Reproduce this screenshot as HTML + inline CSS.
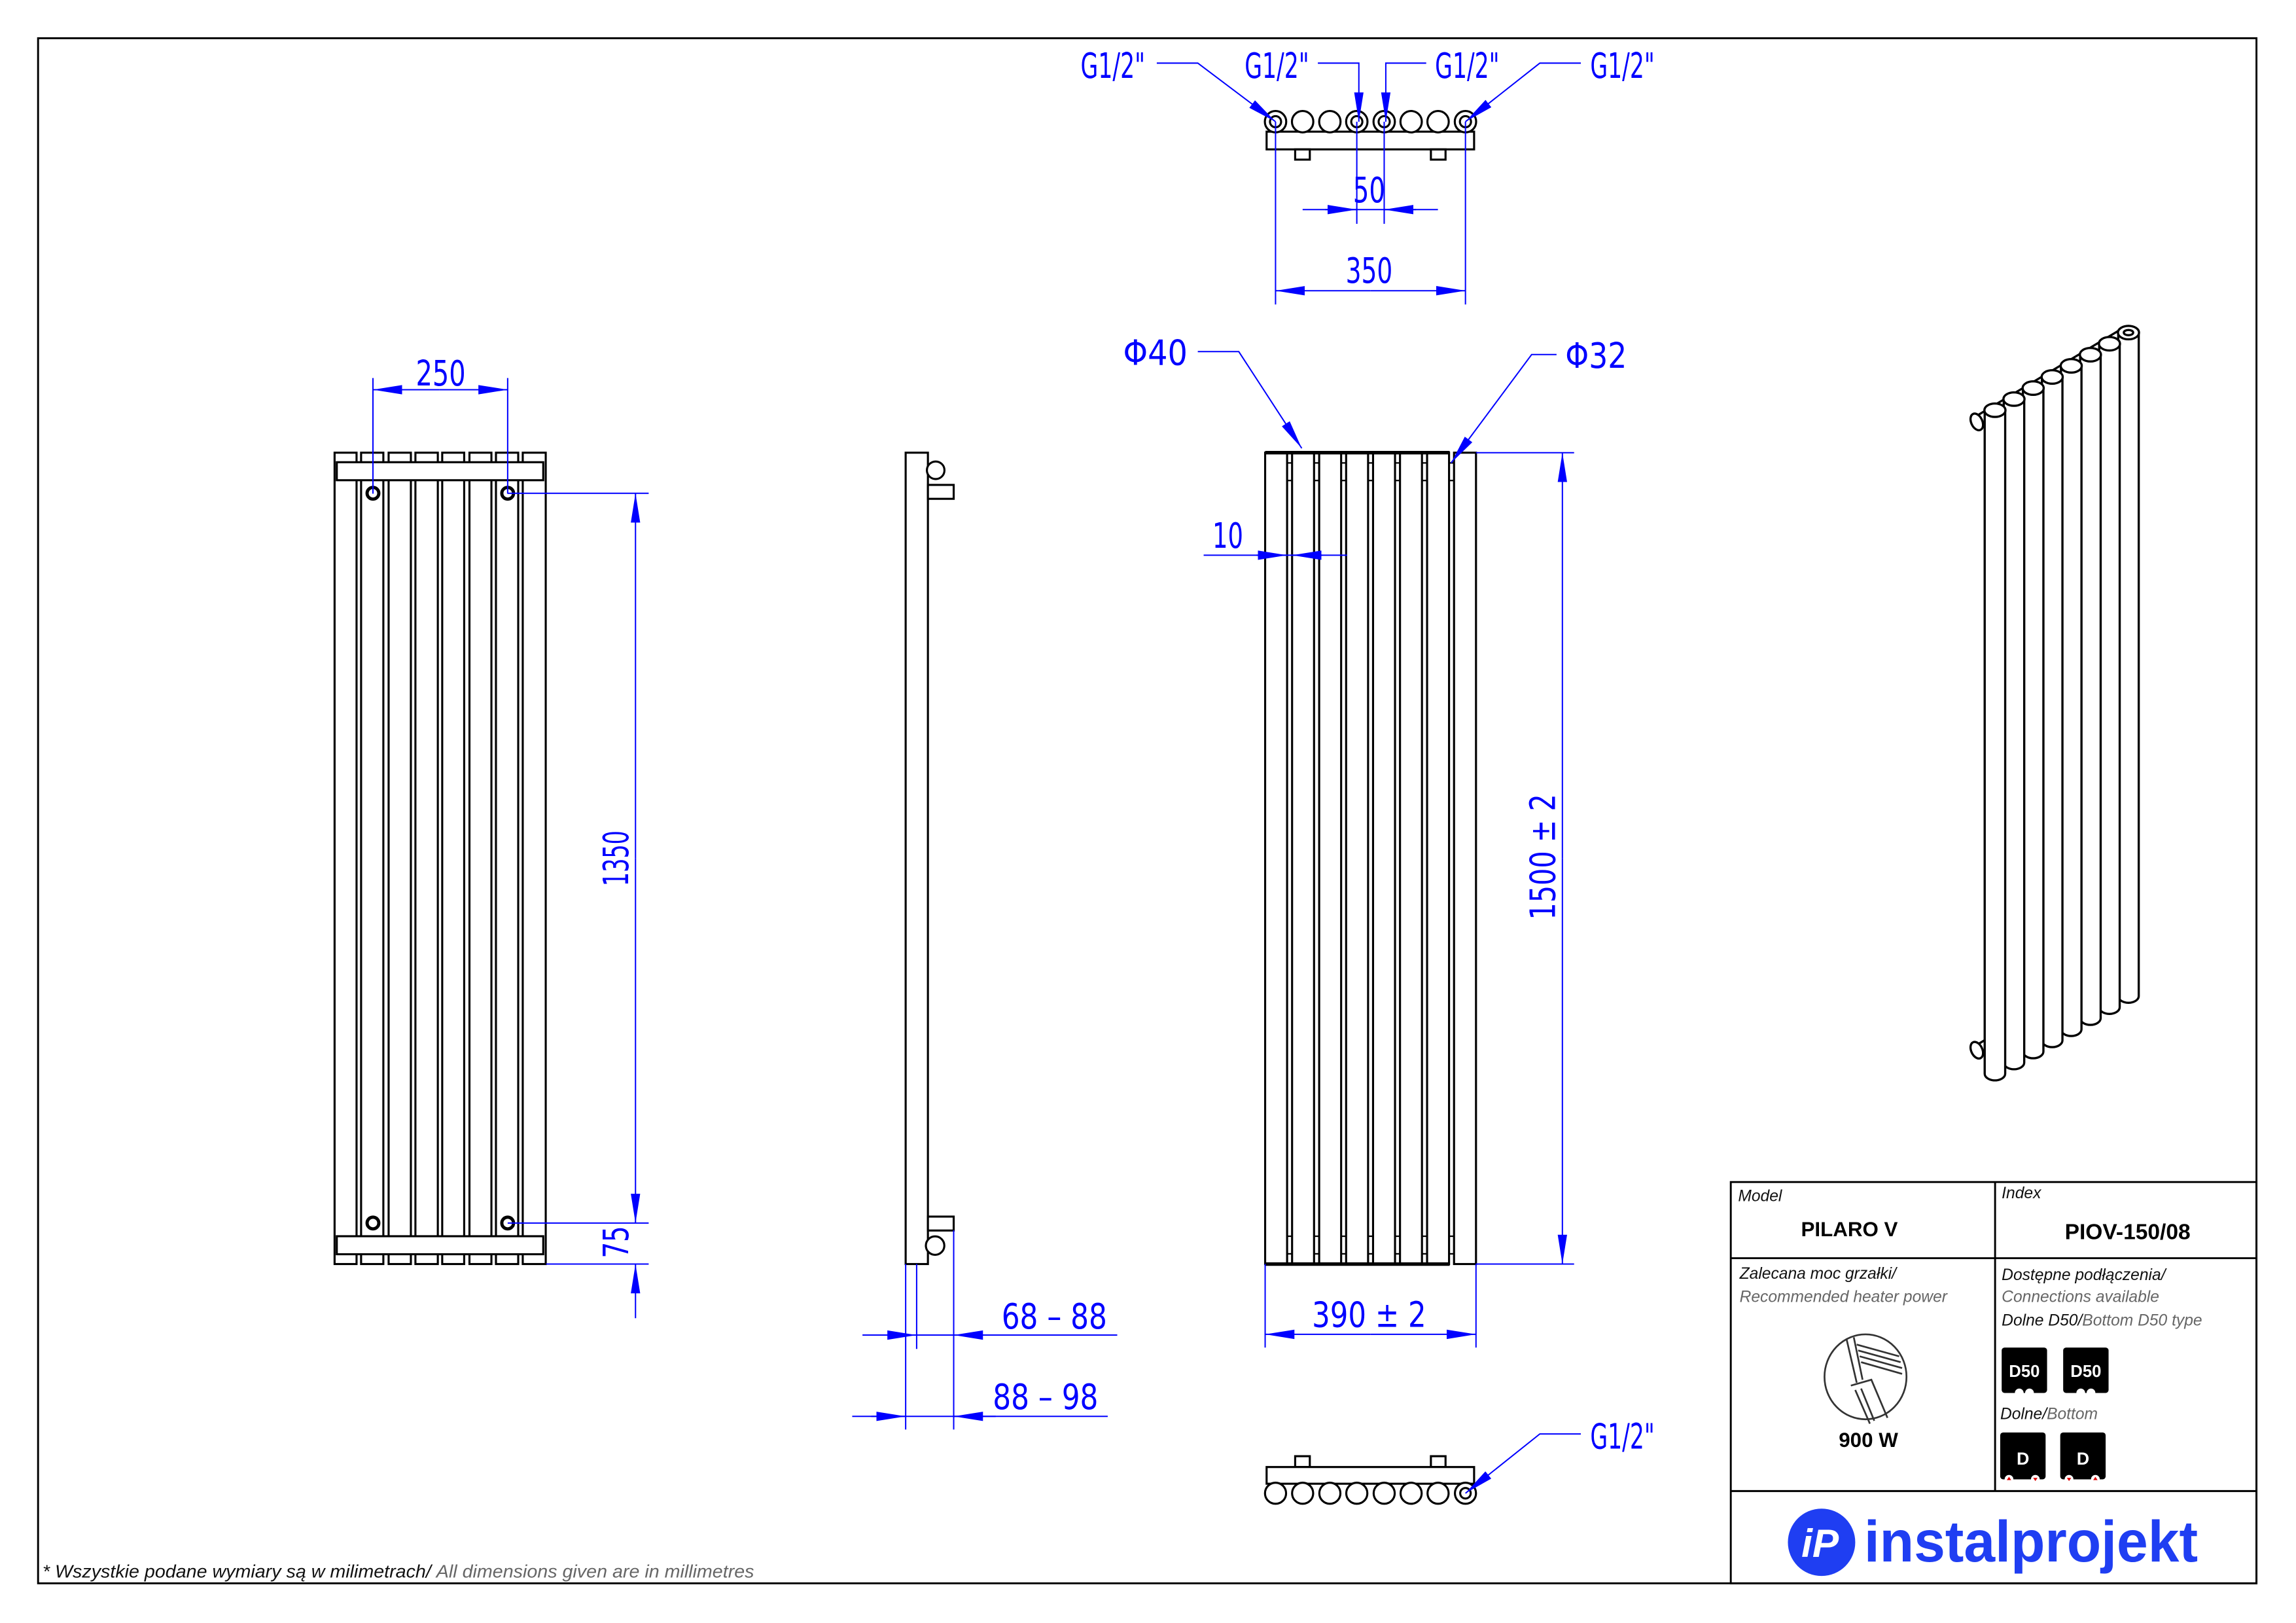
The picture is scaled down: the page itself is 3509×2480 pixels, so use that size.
<!DOCTYPE html>
<html><head><meta charset="utf-8"><style>
html,body{margin:0;padding:0;background:#fff}
svg{display:block}
.k{fill:none;stroke:#000;stroke-width:1.4}
.kw{fill:#fff;stroke:#000;stroke-width:1.4}
.b{fill:none;stroke:#0000ff;stroke-width:0.9}
.ba{fill:none;stroke:#0000ff;stroke-width:0.9;marker-end:url(#ar)}
.dt{fill:#0000ff;font-family:"Liberation Sans Narrow","DejaVu Sans Condensed","Liberation Sans",sans-serif;font-size:24px}
.it{font-family:"Liberation Sans","DejaVu Sans",sans-serif;font-style:italic;font-size:11px;fill:#111}
.gr{fill:#666}
.bd{font-family:"Liberation Sans","DejaVu Sans",sans-serif;font-weight:bold;fill:#000}
</style></head><body>
<svg width="3509" height="2480" viewBox="0 0 1568 1108" xmlns="http://www.w3.org/2000/svg">
<defs>
<marker id="ar" markerUnits="userSpaceOnUse" markerWidth="20" markerHeight="8" viewBox="0 -4 20 8" refX="20" refY="0" orient="auto">
<path d="M0,-3.2 L20,0 L0,3.2Z" fill="#0000ff"/>
</marker>
</defs>
<rect x="0" y="0" width="1568" height="1108" fill="#fff"/>
<!-- frame -->
<rect x="26" y="26" width="1515" height="1055" fill="none" stroke="#000" stroke-width="1.3"/>

<!-- ===== LEFT FRONT VIEW ===== -->
<g class="k">
<rect class="kw" x="228.5" y="309" width="15" height="554"/>
<rect class="kw" x="246.6" y="309" width="15.2" height="554"/>
<rect class="kw" x="265.4" y="309" width="15.2" height="554"/>
<rect class="kw" x="283.7" y="309" width="15.3" height="554"/>
<rect class="kw" x="302" y="309" width="15" height="554"/>
<rect class="kw" x="320.6" y="309" width="15" height="554"/>
<rect class="kw" x="338.7" y="309" width="15.2" height="554"/>
<rect class="kw" x="357" y="309" width="15.7" height="554"/>
<rect class="kw" x="230" y="315.5" width="141" height="12.3" stroke-width="1.8"/>
<rect class="kw" x="230" y="844" width="141" height="12.3" stroke-width="1.8"/>
</g>
<g fill="none" stroke="#000" stroke-width="2.2">
<circle cx="254.7" cy="336.7" r="4"/><circle cx="346.7" cy="336.7" r="4"/>
<circle cx="254.7" cy="835" r="4"/><circle cx="346.7" cy="835" r="4"/>
</g>
<!-- 250 -->
<line class="b" x1="254.7" y1="258" x2="254.7" y2="337"/>
<line class="b" x1="346.7" y1="258" x2="346.7" y2="337"/>
<line class="ba" x1="300" y1="266" x2="254.7" y2="266"/>
<line class="ba" x1="300" y1="266" x2="346.7" y2="266"/>
<text class="dt" x="284" y="263" textLength="34" lengthAdjust="spacingAndGlyphs">250</text>
<!-- 1350 / 75 -->
<line class="b" x1="346.7" y1="336.7" x2="443" y2="336.7"/>
<line class="b" x1="346.7" y1="835" x2="443" y2="835"/>
<line class="b" x1="373" y1="863" x2="443" y2="863"/>
<line class="ba" x1="434" y1="586" x2="434" y2="336.7"/>
<line class="ba" x1="434" y1="586" x2="434" y2="835"/>
<line class="ba" x1="434" y1="900" x2="434" y2="863"/>
<text class="dt" transform="translate(429,605) rotate(-90)" textLength="38" lengthAdjust="spacingAndGlyphs">1350</text>
<text class="dt" transform="translate(429,859) rotate(-90)" textLength="22" lengthAdjust="spacingAndGlyphs">75</text>

<!-- ===== SIDE VIEW ===== -->
<rect class="kw" x="618.5" y="309" width="15.2" height="554" stroke-width="1.6"/>
<rect class="kw" x="633.7" y="331" width="17.6" height="9.5"/>
<rect class="kw" x="633.7" y="830.6" width="17.6" height="9.5"/>
<circle class="kw" cx="639" cy="321" r="6"/>
<circle class="kw" cx="638.6" cy="850.4" r="6.3"/>
<line class="b" x1="618.5" y1="863" x2="618.5" y2="976"/>
<line class="b" x1="626" y1="863" x2="626" y2="921"/>
<line class="b" x1="651.3" y1="840" x2="651.3" y2="976"/>
<line class="b" x1="589" y1="911.5" x2="763" y2="911.5"/>
<line class="ba" x1="600" y1="911.5" x2="626" y2="911.5"/>
<line class="ba" x1="680" y1="911.5" x2="651.3" y2="911.5"/>
<text class="dt" x="684" y="907" textLength="72" lengthAdjust="spacingAndGlyphs">68 – 88</text>
<line class="b" x1="582" y1="967" x2="756.5" y2="967"/>
<line class="ba" x1="595" y1="967" x2="618.5" y2="967"/>
<line class="ba" x1="680" y1="967" x2="651.3" y2="967"/>
<text class="dt" x="678" y="962" textLength="72" lengthAdjust="spacingAndGlyphs">88 – 98</text>

<!-- ===== MIDDLE FRONT VIEW ===== -->
<g class="kw">
<rect x="864" y="309" width="15" height="554"/>
<rect x="882.4" y="309" width="15" height="554"/>
<rect x="900.9" y="309" width="15" height="554"/>
<rect x="919.3" y="309" width="15" height="554"/>
<rect x="937.7" y="309" width="15" height="554"/>
<rect x="956.1" y="309" width="15" height="554"/>
<rect x="974.6" y="309" width="15" height="554"/>
<rect x="993" y="309" width="15" height="554"/>
</g>
<g stroke="#000" stroke-width="2.4">
<line x1="864" y1="309" x2="990" y2="309"/>
<line x1="864" y1="863" x2="990" y2="863"/>
</g>
<g stroke="#000" stroke-width="1">
<path d="M879,316H882.4M897.4,316H900.9M915.9,316H919.3M934.3,316H937.7M952.7,316H956.1M971.1,316H974.6M989.6,316H993"/>
<path d="M879,328H882.4M897.4,328H900.9M915.9,328H919.3M934.3,328H937.7M952.7,328H956.1M971.1,328H974.6M989.6,328H993"/>
<path d="M879,844H882.4M897.4,844H900.9M915.9,844H919.3M934.3,844H937.7M952.7,844H956.1M971.1,844H974.6M989.6,844H993"/>
<path d="M879,856H882.4M897.4,856H900.9M915.9,856H919.3M934.3,856H937.7M952.7,856H956.1M971.1,856H974.6M989.6,856H993"/>
</g>
<!-- Φ40 / Φ32 -->
<text class="dt" x="767" y="249" textLength="44" lengthAdjust="spacingAndGlyphs">Φ40</text>
<polyline class="ba" points="818,240 846,240 889,306"/>
<text class="dt" x="1069" y="251" textLength="42" lengthAdjust="spacingAndGlyphs">Φ32</text>
<polyline class="ba" points="1063,242 1046,242 991,316"/>
<!-- 10 -->
<line class="b" x1="822" y1="379" x2="920" y2="379"/>
<line class="ba" x1="858" y1="379" x2="879" y2="379"/>
<line class="ba" x1="903" y1="379" x2="882.4" y2="379"/>
<text class="dt" x="828" y="374" textLength="21" lengthAdjust="spacingAndGlyphs">10</text>
<!-- 1500 ± 2 -->
<line class="b" x1="1008" y1="309" x2="1075" y2="309"/>
<line class="b" x1="1008" y1="863" x2="1075" y2="863"/>
<line class="ba" x1="1067" y1="586" x2="1067" y2="309"/>
<line class="ba" x1="1067" y1="586" x2="1067" y2="863"/>
<text class="dt" transform="translate(1062,628) rotate(-90)" textLength="86" lengthAdjust="spacingAndGlyphs">1500 ± 2</text>
<!-- 390 ± 2 -->
<line class="b" x1="864" y1="863" x2="864" y2="920"/>
<line class="b" x1="1008" y1="863" x2="1008" y2="920"/>
<line class="ba" x1="936" y1="911" x2="864" y2="911"/>
<line class="ba" x1="936" y1="911" x2="1008" y2="911"/>
<text class="dt" x="896" y="906" textLength="78" lengthAdjust="spacingAndGlyphs">390 ± 2</text>

<!-- ===== TOP VIEW ===== -->
<rect class="kw" x="865" y="89.8" width="141.7" height="12.1"/>
<rect class="k" x="884.5" y="101.9" width="10" height="7"/>
<rect class="k" x="977.2" y="101.9" width="10" height="7"/>
<g class="kw">
<circle cx="871.1" cy="83" r="7.3"/><circle cx="889.6" cy="83" r="7.3"/><circle cx="908.2" cy="83" r="7.3"/><circle cx="926.6" cy="83" r="7.3"/>
<circle cx="945.3" cy="83" r="7.3"/><circle cx="963.7" cy="83" r="7.3"/><circle cx="982.1" cy="83" r="7.3"/><circle cx="1000.8" cy="83" r="7.3"/>
<circle cx="871.1" cy="83" r="3.8"/><circle cx="926.6" cy="83" r="3.8"/><circle cx="945.3" cy="83" r="3.8"/><circle cx="1000.8" cy="83" r="3.8"/>
</g>
<text class="dt" x="738" y="53" textLength="44" lengthAdjust="spacingAndGlyphs">G1/2"</text>
<text class="dt" x="850" y="53" textLength="44" lengthAdjust="spacingAndGlyphs">G1/2"</text>
<text class="dt" x="980" y="53" textLength="44" lengthAdjust="spacingAndGlyphs">G1/2"</text>
<text class="dt" x="1086" y="53" textLength="44" lengthAdjust="spacingAndGlyphs">G1/2"</text>
<polyline class="ba" points="790,43 818,43 871.1,83"/>
<polyline class="ba" points="900,43 928,43 928,83"/>
<polyline class="ba" points="974,43 946.4,43 946.4,83"/>
<polyline class="ba" points="1079.6,43 1051.6,43 1000.8,83"/>
<!-- 50 -->
<line class="b" x1="926.6" y1="83" x2="926.6" y2="152.7"/>
<line class="b" x1="945.3" y1="83" x2="945.3" y2="152.7"/>
<line class="b" x1="889.6" y1="143" x2="982" y2="143"/>
<line class="ba" x1="905" y1="143" x2="926.6" y2="143"/>
<line class="ba" x1="967" y1="143" x2="945.3" y2="143"/>
<text class="dt" x="924" y="138" textLength="22" lengthAdjust="spacingAndGlyphs">50</text>
<!-- 350 -->
<line class="b" x1="871.1" y1="83" x2="871.1" y2="207.8"/>
<line class="b" x1="1000.8" y1="83" x2="1000.8" y2="207.8"/>
<line class="ba" x1="936" y1="198.4" x2="871.1" y2="198.4"/>
<line class="ba" x1="936" y1="198.4" x2="1000.8" y2="198.4"/>
<text class="dt" x="919" y="193" textLength="32" lengthAdjust="spacingAndGlyphs">350</text>

<!-- ===== BOTTOM VIEW ===== -->
<rect class="k" x="884.5" y="994.2" width="10" height="7.4"/>
<rect class="k" x="977.2" y="994.2" width="10" height="7.4"/>
<rect class="kw" x="865" y="1001.6" width="141.7" height="11.4"/>
<g class="kw">
<circle cx="871.1" cy="1019.5" r="7.2"/><circle cx="889.6" cy="1019.5" r="7.2"/><circle cx="908.2" cy="1019.5" r="7.2"/><circle cx="926.6" cy="1019.5" r="7.2"/>
<circle cx="945.3" cy="1019.5" r="7.2"/><circle cx="963.7" cy="1019.5" r="7.2"/><circle cx="982.1" cy="1019.5" r="7.2"/><circle cx="1000.8" cy="1019.5" r="7.2"/>
<circle cx="1000.8" cy="1019.5" r="3.6"/>
</g>
<text class="dt" x="1086" y="989" textLength="44" lengthAdjust="spacingAndGlyphs">G1/2"</text>
<polyline class="ba" points="1079.6,979 1051.6,979 1000.8,1019.5"/>

<!-- ===== ISOMETRIC ===== -->
<g stroke="#000" stroke-width="1.5" fill="#fff">
<!-- header pipes -->
<line x1="1349" y1="284.4" x2="1450.7" y2="223.4"/>
<line x1="1349" y1="714" x2="1450" y2="653"/>
<!-- tubes back to front -->
<g>
<path d="M1446.6,227 V680 A7,4.6 0 0 0 1460.6,680 V227Z"/><ellipse cx="1453.6" cy="227" rx="7.2" ry="4.6"/><ellipse cx="1453.6" cy="227" rx="3.2" ry="1.8"/>
<path d="M1433.6,234.6 V687.6 A7,4.6 0 0 0 1447.6,687.6 V234.6Z"/><ellipse cx="1440.6" cy="234.6" rx="7.2" ry="4.6"/>
<path d="M1420.6,242.1 V695.1 A7,4.6 0 0 0 1434.6,695.1 V242.1Z"/><ellipse cx="1427.6" cy="242.1" rx="7.2" ry="4.6"/>
<path d="M1407.5,249.7 V702.7 A7,4.6 0 0 0 1421.5,702.7 V249.7Z"/><ellipse cx="1414.5" cy="249.7" rx="7.2" ry="4.6"/>
<path d="M1394.5,257.3 V710.3 A7,4.6 0 0 0 1408.5,710.3 V257.3Z"/><ellipse cx="1401.5" cy="257.3" rx="7.2" ry="4.6"/>
<path d="M1381.5,264.9 V717.9 A7,4.6 0 0 0 1395.5,717.9 V264.9Z"/><ellipse cx="1388.5" cy="264.9" rx="7.2" ry="4.6"/>
<path d="M1368.4,272.4 V725.4 A7,4.6 0 0 0 1382.4,725.4 V272.4Z"/><ellipse cx="1375.4" cy="272.4" rx="7.2" ry="4.6"/>
<path d="M1355.4,280 V733 A7,4.6 0 0 0 1369.4,733 V280Z"/><ellipse cx="1362.4" cy="280" rx="7.2" ry="4.6"/>
</g>
<ellipse cx="1350" cy="288" rx="3.8" ry="6" transform="rotate(-25 1350 288)"/>
<ellipse cx="1350" cy="717" rx="3.8" ry="6" transform="rotate(-25 1350 717)"/>
</g>

<!-- ===== TITLE BLOCK ===== -->
<g stroke="#000" stroke-width="1.3" fill="none">
<rect x="1182" y="807" width="359" height="274"/>
<line x1="1182" y1="859" x2="1541" y2="859"/>
<line x1="1182" y1="1018" x2="1541" y2="1018"/>
<line x1="1362.5" y1="807" x2="1362.5" y2="1018"/>
</g>
<text class="it" x="1187" y="820">Model</text>
<text class="bd" x="1263" y="844" font-size="14" text-anchor="middle">PILARO V</text>
<text class="it" x="1367" y="818">Index</text>
<text class="bd" x="1453" y="846" font-size="15" text-anchor="middle">PIOV-150/08</text>
<text class="it" x="1188" y="873">Zalecana moc grzałki/</text>
<text class="it gr" x="1188" y="889">Recommended heater power</text>
<text class="it" x="1367" y="874">Dostępne podłączenia/</text>
<text class="it gr" x="1367" y="889">Connections available</text>
<text class="it" x="1367" y="905">Dolne D50/<tspan class="gr">Bottom D50 type</tspan></text>
<text class="it" x="1366" y="969">Dolne/<tspan class="gr">Bottom</tspan></text>
<!-- heater icon -->
<g fill="none" stroke="#333" stroke-width="1.2">
<ellipse cx="1274" cy="940" rx="28" ry="29"/>
<path d="M1261,914 L1268,944 M1266,913 L1272,942"/>
<path d="M1268,918 L1297,926 M1269,922 L1298,930 M1270,926 L1299,934 M1271,930 L1299,938"/>
<path d="M1264,946 L1278,942 L1289,968 M1267,949 L1277,972 M1271,948 L1280,970"/>
</g>
<text class="bd" x="1276" y="988" font-size="14" text-anchor="middle">900 W</text>
<!-- connection boxes -->
<g>
<rect x="1367" y="920" width="31" height="31" rx="2" fill="#000"/>
<rect x="1409" y="920" width="31" height="31" rx="2" fill="#000"/>
<text class="bd" x="1382.5" y="940" font-size="11.5" fill="#fff" text-anchor="middle" style="fill:#fff">D50</text>
<text class="bd" x="1424.5" y="940" font-size="11.5" text-anchor="middle" style="fill:#fff">D50</text>
<circle cx="1379" cy="951" r="3" fill="#fff"/><circle cx="1386" cy="951" r="3" fill="#fff"/>
<circle cx="1421" cy="951" r="3" fill="#fff"/><circle cx="1428" cy="951" r="3" fill="#fff"/>
<rect x="1366" y="978" width="31" height="32" rx="2" fill="#000"/>
<rect x="1407" y="978" width="31" height="32" rx="2" fill="#000"/>
<text class="bd" x="1381.5" y="1000" font-size="12" text-anchor="middle" style="fill:#fff">D</text>
<text class="bd" x="1422.5" y="1000" font-size="12" text-anchor="middle" style="fill:#fff">D</text>
<circle cx="1372" cy="1010" r="3" fill="#fff"/><circle cx="1390" cy="1010" r="3" fill="#fff"/>
<circle cx="1413" cy="1010" r="3" fill="#fff"/><circle cx="1431" cy="1010" r="3" fill="#fff"/>
<path d="M1370.5,1010.5h3l-1.5,-2.2z M1411.5,1009h3l-1.5,2.2z M1429.5,1010.5h3l-1.5,-2.2z M1388.5,1009h3l-1.5,2.2z" fill="#d00"/>
</g>
<!-- logo -->
<circle cx="1244" cy="1053" r="23" fill="#1f3ef2"/>
<text x="1243" y="1063" font-family="Liberation Sans, sans-serif" font-weight="bold" font-style="italic" font-size="27" fill="#fff" text-anchor="middle">iP</text>
<text x="1273" y="1066" font-family="Liberation Sans, DejaVu Sans, sans-serif" font-weight="bold" font-size="40" fill="#1f3ef2" textLength="228" lengthAdjust="spacingAndGlyphs">instalprojekt</text>

<!-- footnote -->
<text x="29" y="1077" font-family="Liberation Sans, sans-serif" font-style="italic" font-size="12.5" fill="#111" textLength="486" lengthAdjust="spacingAndGlyphs">* Wszystkie podane wymiary są w milimetrach/ <tspan fill="#666">All dimensions given are in millimetres</tspan></text>
</svg>
</body></html>
